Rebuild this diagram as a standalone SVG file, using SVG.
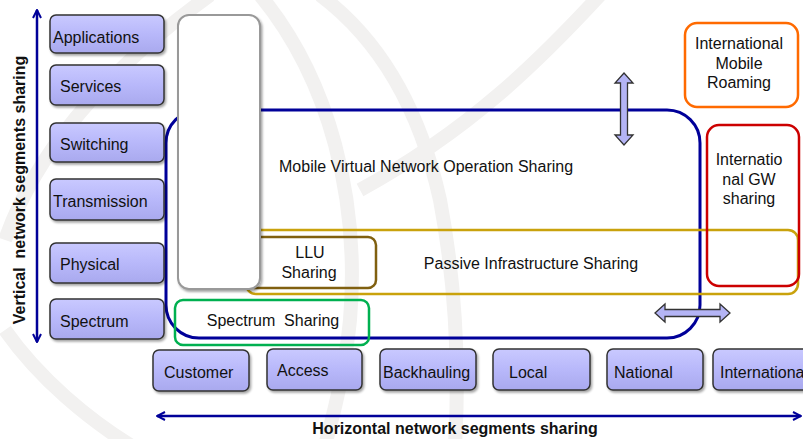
<svg xmlns="http://www.w3.org/2000/svg" width="803" height="439" viewBox="0 0 803 439">
<defs>
  <linearGradient id="boxFill" x1="0" y1="0" x2="0" y2="1">
    <stop offset="0" stop-color="#c9c9ff"/>
    <stop offset="0.5" stop-color="#b8b8fa"/>
    <stop offset="1" stop-color="#a9a9ee"/>
  </linearGradient>
  <filter id="shadow" x="-10%" y="-10%" width="130%" height="140%">
    <feDropShadow dx="1.5" dy="2" stdDeviation="1" flood-color="#000" flood-opacity="0.35"/>
  </filter>
  <marker id="chev" viewBox="0 0 10 10" refX="9" refY="5" markerWidth="10" markerHeight="10" markerUnits="userSpaceOnUse" orient="auto-start-reverse">
    <path d="M1,1 L9,5 L1,9" fill="none" stroke="#000099" stroke-width="2"/>
  </marker>
  <style>
    .box rect { fill: url(#boxFill); stroke: #333; stroke-width: 1.5; filter: url(#shadow); }
    .lbl { font-family: "Liberation Sans", Arial, sans-serif; font-size: 16px; fill: #111; }
    .mid { text-anchor: middle; }
    .bold { font-weight: bold; }
    .blk { fill: #b4b4f5; stroke: #333; stroke-width: 1.3; }
    .wm { fill: none; stroke: #f2f1f0; stroke-width: 14; }
  </style>
</defs>
<rect width="803" height="439" fill="#ffffff"/>
<g id="watermark">
  <path class="wm" d="M210,-5 C120,60 40,140 5,240"/>
  <path class="wm" d="M5,330 C40,380 90,420 130,445"/>
  <path class="wm" d="M320,-5 C380,40 420,110 440,200 C455,280 460,360 455,445"/>
  <path class="wm" d="M260,-5 C330,80 360,200 350,320 C345,370 335,410 325,445"/>
  <path class="wm" d="M600,-5 C540,60 470,130 360,190"/>
</g>

<g id="connectors">
  <line x1="37" y1="342" x2="37" y2="10" stroke="#000099" stroke-width="2.5" marker-start="url(#chev)" marker-end="url(#chev)"/>
  <line x1="157" y1="416" x2="801" y2="416" stroke="#000099" stroke-width="2.5" marker-start="url(#chev)" marker-end="url(#chev)"/>
</g>

<g id="mvno">
  <rect x="166" y="110" width="534" height="228" rx="33" fill="none" stroke="#000099" stroke-width="3"/>
  <text class="lbl" x="279" y="172">Mobile Virtual Network Operation Sharing</text>
</g>
<g id="passive">
  <rect x="246" y="230" width="552" height="64" rx="10" fill="none" stroke="#c9a20c" stroke-width="2.5"/>
  <text class="lbl mid" x="531" y="269">Passive Infrastructure Sharing</text>
</g>
<g id="llu">
  <rect x="240" y="237" width="136" height="51" rx="8" fill="none" stroke="#806010" stroke-width="2.5"/>
  <text class="lbl mid" x="310" y="258">LLU</text>
  <text class="lbl mid" x="309" y="278">Sharing</text>
</g>
<g id="spectrum-sharing">
  <rect x="175" y="300" width="194" height="45" rx="8" fill="none" stroke="#00b050" stroke-width="2.5"/>
  <text class="lbl mid" x="273" y="326" xml:space="preserve">Spectrum  Sharing</text>
</g>
<g id="vertical-stack">
  <rect x="178" y="15" width="82" height="274" rx="11" fill="#ffffff" stroke="#999" stroke-width="2" filter="url(#shadow)"/>
</g>
<g id="intl-roaming">
  <rect x="685" y="23" width="113" height="84" rx="12" fill="#ffffff" stroke="#ff6a00" stroke-width="2.5"/>
  <text class="lbl mid" x="739" y="49">International</text>
  <text class="lbl mid" x="739" y="68.5">Mobile</text>
  <text class="lbl mid" x="739" y="88">Roaming</text>
</g>
<g id="intl-gw">
  <rect x="707" y="125" width="92" height="161" rx="12" fill="none" stroke="#cc0000" stroke-width="2.5"/>
  <text class="lbl mid" x="749" y="165">Internatio</text>
  <text class="lbl mid" x="749" y="184.5">nal GW</text>
  <text class="lbl mid" x="749" y="204">sharing</text>
</g>

<g id="vert-block-arrow">
  <path class="blk" d="M624,73 L633,83 L627.5,83 L627.5,135 L633,135 L624,145 L615,135 L620.5,135 L620.5,83 L615,83 Z"/>
</g>
<g id="horiz-block-arrow">
  <path class="blk" d="M655,313 L665,304 L665,309.5 L720,309.5 L720,304 L730,313 L720,322 L720,316.5 L665,316.5 L665,322 Z"/>
</g>

<g id="layer-applications" class="box"><rect x="50" y="15" width="114" height="38" rx="6"/><text class="lbl" x="53" y="43">Applications</text></g>
<g id="layer-services" class="box"><rect x="50" y="65" width="114" height="40" rx="6"/><text class="lbl" x="60" y="92">Services</text></g>
<g id="layer-switching" class="box"><rect x="50" y="123" width="114" height="39" rx="6"/><text class="lbl" x="60" y="150">Switching</text></g>
<g id="layer-transmission" class="box"><rect x="50" y="179" width="114" height="41" rx="6"/><text class="lbl" x="53" y="207">Transmission</text></g>
<g id="layer-physical" class="box"><rect x="50" y="243" width="114" height="40" rx="6"/><text class="lbl" x="60" y="270">Physical</text></g>
<g id="layer-spectrum" class="box"><rect x="50" y="299" width="114" height="40" rx="6"/><text class="lbl" x="60" y="327">Spectrum</text></g>

<g id="seg-customer" class="box"><rect x="153" y="350" width="96" height="41" rx="6"/><text class="lbl" x="164" y="378">Customer</text></g>
<g id="seg-access" class="box"><rect x="267" y="349" width="95" height="41" rx="6"/><text class="lbl" x="277" y="376">Access</text></g>
<g id="seg-backhauling" class="box"><rect x="380" y="349" width="96" height="41" rx="6"/><text class="lbl" x="383" y="378">Backhauling</text></g>
<g id="seg-local" class="box"><rect x="493" y="349" width="97" height="41" rx="6"/><text class="lbl" x="509" y="378">Local</text></g>
<g id="seg-national" class="box"><rect x="607" y="349" width="96" height="41" rx="6"/><text class="lbl" x="614" y="378">National</text></g>
<g id="seg-international" class="box"><rect x="713" y="349" width="100" height="41" rx="6"/><text class="lbl" x="720" y="378">International</text></g>

<g id="axis-labels">
  <text class="lbl bold mid" x="455" y="434">Horizontal network segments sharing</text>
  <text class="lbl bold mid" transform="translate(25,190) rotate(-90)" xml:space="preserve">Vertical  network segments sharing</text>
</g>
</svg>
